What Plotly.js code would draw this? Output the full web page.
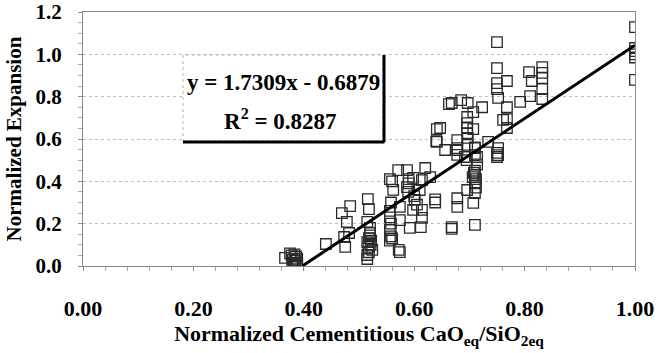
<!DOCTYPE html>
<html>
<head>
<meta charset="utf-8">
<script src="https://cdn.plot.ly/plotly-3.0.1.min.js"></script>
<style>html,body{margin:0;padding:0;background:#fff;}#chart{width:671px;height:353px;}</style>
</head>
<body>
<div id="chart"></div>
<script>
// Measured points: normalized cementitious CaO/SiO2 ratio (x) vs normalized expansion (y)
const ratioX = [
  0.366,0.375,0.378,0.380,0.382,0.385,0.386,0.384,0.388,0.388,0.379,0.383,
  0.440,
  0.469,0.484,0.478,0.482,0.473,0.475,
  0.516,0.518,0.515,
  0.520,0.520,0.518,0.515,0.521,0.517,0.524,0.515,0.515,0.522,0.520,0.518,
  0.572,
  0.556,0.556,0.558,0.556,0.558,0.556,0.560,0.556,0.560,0.562,0.558,
  0.571,0.587,0.620,0.629,0.598,0.614,0.610,0.587,0.589,0.601,0.598,0.614,0.614,0.592,0.612,0.574,0.574,0.574,
  0.590,0.600,0.605,0.590,
  0.638,0.638,0.678,0.678,0.668,0.668,0.710,0.707,0.696,0.710,
  0.710,0.710,0.712,0.710,0.712,0.706,0.708,
  0.641,0.656,0.678,0.678,0.692,0.695,0.710,0.714,0.714,0.750,0.750,
  0.750,0.750,0.750,0.768,0.750,0.752,0.768,0.792,0.810,0.808,0.813,0.832,0.832,0.832,0.832,0.832,
  0.668,0.685,0.697,0.723,0.707,0.696,0.696,0.696,0.696,0.707,0.761,0.768,0.768,0.647,
  0.678,0.678,0.697,0.696,0.734,0.710,0.752,0.752,0.710,
  0.663,0.641,0.640,
  1.000,1.000,1.000,1.000,1.000,1.000
];
const expansionY = [
  0.038,0.060,0.050,0.030,0.015,0.000,0.045,0.025,0.010,0.035,0.005,0.055,
  0.104,
  0.250,0.283,0.208,0.156,0.137,0.090,
  0.316,0.269,0.208,
  0.180,0.156,0.132,0.113,0.100,0.090,0.076,0.052,0.033,0.120,0.145,0.065,
  0.076,
  0.260,0.230,0.200,0.170,0.140,0.120,0.130,0.410,0.400,0.360,0.300,
  0.453,0.453,0.463,0.420,0.416,0.406,0.359,0.373,0.350,0.312,0.265,0.265,0.227,0.180,0.184,0.279,0.217,0.066,
  0.390,0.330,0.290,0.410,
  0.315,0.300,0.320,0.279,0.184,0.175,0.194,0.298,0.359,0.345,
  0.450,0.430,0.410,0.390,0.370,0.420,0.440,
  0.586,0.548,0.548,0.525,0.515,0.500,0.560,0.515,0.480,0.534,0.515,
  1.058,0.935,0.864,0.874,0.836,0.794,0.750,0.775,0.803,0.916,0.874,0.940,0.912,0.888,0.836,0.789,
  0.770,0.784,0.770,0.750,0.727,0.704,0.675,0.652,0.628,0.647,0.690,0.694,0.652,0.652,
  0.595,0.557,0.605,0.572,0.586,0.557,0.557,0.524,0.524,
  0.765,0.647,0.590,
  1.129,1.030,1.015,1.000,0.985,0.879
];
// Linear trend line reported on the chart
const fitSlope = 1.7309;
const fitIntercept = -0.6879;
const fitR2 = 0.8287;
const xTickVals = [0, 0.2, 0.4, 0.6, 0.8, 1.0];
const xTickText = ["0.00", "0.20", "0.40", "0.60", "0.80", "1.00"];
const yTickVals = [0, 0.2, 0.4, 0.6, 0.8, 1.0, 1.2];
const yTickText = ["0.0", "0.2", "0.4", "0.6", "0.8", "1.0", "1.2"];

const fitStart = -fitIntercept / fitSlope;
const fitX = [fitStart, 1.0];
const fitY = fitX.map(v => fitSlope * v + fitIntercept);

const serif = "Liberation Serif, Times New Roman, serif";

const traces = [
  {
    x: ratioX, y: expansionY, type: "scatter", mode: "markers",
    marker: {symbol: "square-open", size: 10.5, color: "#2a2a2a", line: {width: 1.3, color: "#2a2a2a"}},
    hoverinfo: "x+y", showlegend: false
  },
  {
    x: fitX, y: fitY, type: "scatter", mode: "lines",
    line: {color: "#000", width: 3}, showlegend: false, hoverinfo: "skip"
  }
];

const layout = {
  width: 671, height: 353,
  margin: {l: 83, r: 36, t: 12, b: 87},
  paper_bgcolor: "#fff", plot_bgcolor: "#fff",
  showlegend: false,
  xaxis: {
    range: [0, 1.0], tickvals: xTickVals, ticktext: xTickText,
    showgrid: false, zeroline: false,
    showline: true, linecolor: "#8a8a8a", linewidth: 1, mirror: true,
    ticks: "outside", ticklen: 4, tickcolor: "#8a8a8a",
    minor: {dtick: 0.04, ticks: "outside", ticklen: 4, tickcolor: "#aaa", showgrid: false},
    ticklabelstandoff: 19,
    tickfont: {family: serif, size: 22, color: "#000", weight: "bold"},
    title: {text: "<b>Normalized Cementitious CaO<sub>eq</sub>/SiO<sub>2eq</sub></b>",
            font: {family: serif, size: 22, color: "#000"}, standoff: 4}
  },
  yaxis: {
    range: [0, 1.2], tickvals: yTickVals, ticktext: yTickText,
    showgrid: true, gridcolor: "#bdbdbd", griddash: "dot", gridwidth: 1,
    zeroline: false,
    showline: true, linecolor: "#8a8a8a", linewidth: 1, mirror: true,
    ticks: "outside", ticklen: 4, tickcolor: "#8a8a8a",
    minor: {dtick: 0.05, ticks: "outside", ticklen: 4, tickcolor: "#aaa", showgrid: false},
    ticklabelstandoff: 12,
    tickfont: {family: serif, size: 21, color: "#000", weight: "bold"},
    title: {text: "<b>Normalized Expansion</b>", font: {family: serif, size: 21, color: "#000"}, standoff: 8}
  },
  shapes: [
    {type: "rect", xref: "paper", yref: "paper", x0: 0.1812, x1: 0.5435, y0: 0.4921, y1: 0.8307,
     line: {color: "#b5b5b5", width: 1, dash: "dot"}, fillcolor: "#fff", layer: "above"},
    {type: "line", xref: "paper", yref: "paper", x0: 0.5453, x1: 0.5453, y0: 0.4882, y1: 0.8307,
     line: {color: "#000", width: 3}, layer: "above"},
    {type: "line", xref: "paper", yref: "paper", x0: 0.1812, x1: 0.5463, y0: 0.4882, y1: 0.4882,
     line: {color: "#000", width: 3}, layer: "above"}
  ],
  annotations: [
    {xref: "paper", yref: "paper", x: 0.3625, y: 0.724, xanchor: "center", yanchor: "middle", showarrow: false,
     text: "<b>y = " + fitSlope.toFixed(4) + "x - " + Math.abs(fitIntercept).toFixed(4) + "</b>",
     font: {family: serif, size: 23, color: "#000"}},
    {xref: "paper", yref: "paper", x: 0.3585, y: 0.575, xanchor: "center", yanchor: "middle", showarrow: false,
     text: "<b>R<sup>2</sup> = " + fitR2.toFixed(4) + "</b>",
     font: {family: serif, size: 23, color: "#000"}}
  ]
};

Plotly.newPlot("chart", traces, layout, {displayModeBar: false, staticPlot: true});
</script>
</body>
</html>
